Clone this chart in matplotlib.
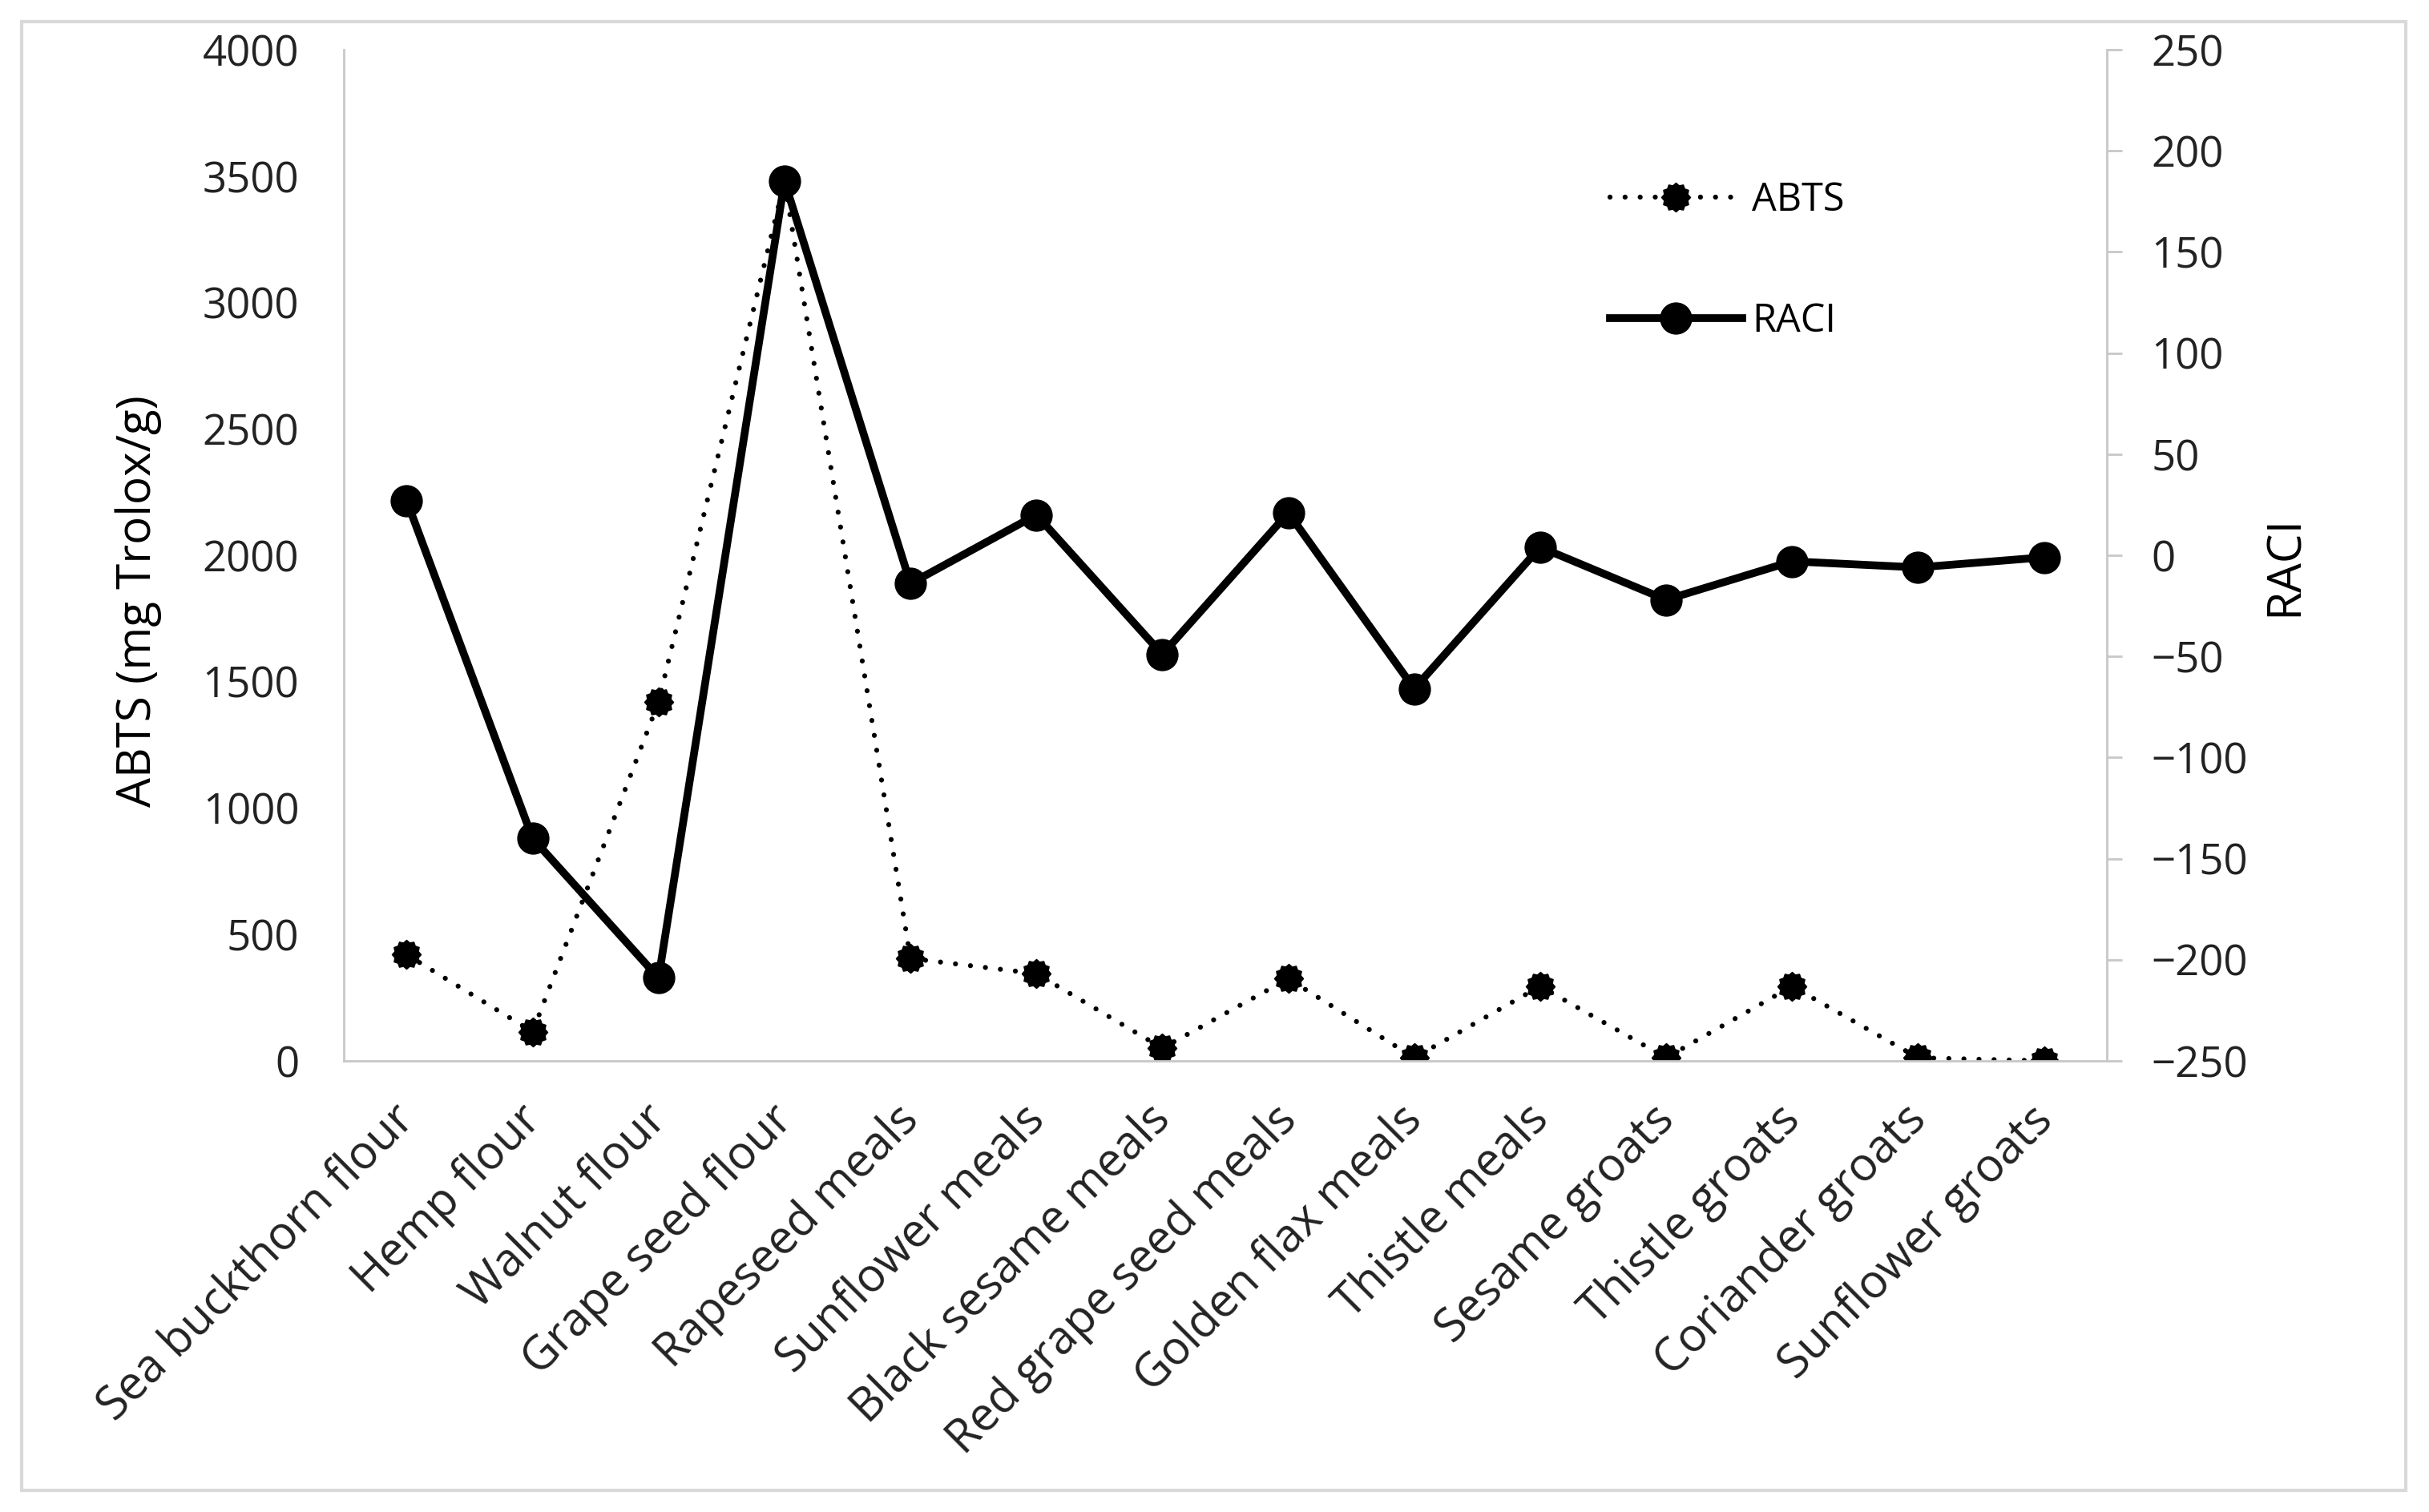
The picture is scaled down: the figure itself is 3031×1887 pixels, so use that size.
import numpy as np
import matplotlib
matplotlib.use('Agg')
from matplotlib import pyplot as plt
from matplotlib.path import Path
from matplotlib.patches import Rectangle

plt.rc('font', family='Open Sans')

#   Data
categories = ['Sea buckthorn flour', 'Hemp flour', 'Walnut flour', 'Grape seed flour',
              'Rapeseed meals', 'Sunflower meals', 'Black sesame meals', 'Red grape seed meals',
              'Golden flax meals', 'Thistle meals', 'Sesame groats', 'Thistle groats',
              'Coriander groats', 'Sunflower groats']
abts = [420, 115, 1420, 3480, 405, 345, 50, 325, 12, 295, 12, 295, 12, 0]
raci = [27, -140, -209, 185, -14, 20, -49, 21, -66, 4, -22, -3, -6, -1]
abts_ticks = [0, 500, 1000, 1500, 2000, 2500, 3000, 3500, 4000]
raci_ticks = [-250, -200, -150, -100, -50, 0, 50, 100, 150, 200, 250]

GRAY = '#c8c8c8'
TICK = 38

# gear-like marker for ABTS
ang = np.linspace(0, 2 * np.pi, 25)[:-1]
rad = np.where(np.arange(24) % 2 == 0, 1.0, 0.84)
verts = np.column_stack([rad * np.cos(ang), rad * np.sin(ang)])
verts = np.vstack([verts, verts[:1]])
gear = Path(verts, [Path.MOVETO] + [Path.LINETO] * 23 + [Path.CLOSEPOLY])

fig = plt.figure(figsize=(30.31, 18.87), dpi=100)
ax = fig.add_axes([0.1415, 0.2984, 0.7259, 0.6687])
ax2 = ax.twinx()

x = np.arange(len(categories))
l1, = ax.plot(x, abts, color='black', lw=4.5, linestyle=(0, (0.01, 3.0)),
              dash_capstyle='round', marker=gear, markersize=26, label='ABTS')
l2, = ax2.plot(x, raci, color='black', lw=7, marker='o', markersize=28,
               solid_joinstyle='round', label='RACI')

ax.set_xlim(-0.5, len(categories) - 0.5)
ax.set_ylim(0, 4000)
ax2.set_ylim(-250, 250)
ax.set_yticks(abts_ticks)
ax2.set_yticks(raci_ticks)
# labels sit a little left of the category centre (ticks are hidden)
ax.set_xticks(x - 0.12)
ax.set_xticklabels(categories, rotation=45, ha='right', rotation_mode='anchor', fontsize=41.5)

for a in (ax, ax2):
    for s in a.spines.values():
        s.set_color(GRAY)
        s.set_linewidth(2)
    a.spines['top'].set_visible(False)
ax.spines['right'].set_visible(False)
ax2.spines['left'].set_visible(False)
ax2.spines['bottom'].set_visible(False)

ax.tick_params(axis='y', length=0, pad=40, labelsize=TICK, colors='#222222')
ax.tick_params(axis='x', length=0, pad=32, colors='#222222')
ax2.tick_params(axis='y', length=14, width=2, color=GRAY, pad=26, labelsize=TICK,
                labelcolor='#222222')

ax.set_ylabel('ABTS (mg Trolox/g)', fontsize=42)
ax.yaxis.set_label_coords(-0.103, 0.455)
ax2.set_ylabel('RACI', fontsize=42, rotation=90)
ax2.yaxis.set_label_coords(1.088, 0.49)

ax2.legend(handles=[l1, l2], loc='upper left', bbox_to_anchor=(0.707, 0.89),
           frameon=False, fontsize=35, handlelength=3.4, handletextpad=0.25,
           labelspacing=2.1, borderpad=0)

fig.patches.append(Rectangle((27 / 3031, 1 - 1860 / 1887), (3002 - 27) / 3031, (1860 - 27) / 1887,
                             transform=fig.transFigure, fill=False, edgecolor='#d9d9d9', lw=3))

fig.savefig('out.png', dpi=100)
